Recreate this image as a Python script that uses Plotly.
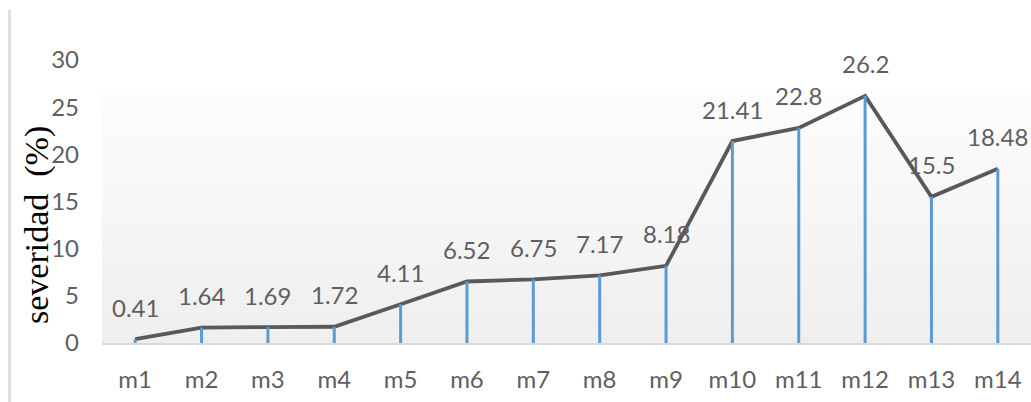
import plotly.graph_objects as go

# Severity per sample
categories = ["m1", "m2", "m3", "m4", "m5", "m6", "m7", "m8", "m9", "m10", "m11", "m12", "m13", "m14"]
severity = [0.41, 1.64, 1.69, 1.72, 4.11, 6.52, 6.75, 7.17, 8.18, 21.41, 22.8, 26.2, 15.5, 18.48]
y_ticks = [0, 5, 10, 15, 20, 25, 30]

W, H = 1031, 402
M_L, M_R, M_T, M_B = 102, 0, 60, 59

TEXT_GRAY = "#5f5f5f"
LINE_GRAY = "#595959"
DROP_BLUE = "#5b9bd5"
LABEL_FONT = dict(family="Lato, 'Open Sans', sans-serif", size=24, color=TEXT_GRAY)

fig = go.Figure()

# Main series line
fig.add_trace(go.Scatter(
    x=categories, y=severity, mode="lines",
    line=dict(color=LINE_GRAY, width=3.8),
    hoverinfo="skip", showlegend=False,
))

# Drop lines from each point down to the category axis
drop_x, drop_y = [], []
for c, v in zip(categories, severity):
    drop_x += [c, c, None]
    drop_y += [0, v, None]
fig.add_trace(go.Scatter(
    x=drop_x, y=drop_y, mode="lines",
    line=dict(color=DROP_BLUE, width=3),
    hoverinfo="skip", showlegend=False,
))

# Value labels above each point
for c, v in zip(categories, severity):
    fig.add_annotation(
        x=c, y=v, text=f"{v:g}", showarrow=False,
        xanchor="center", yanchor="middle", yshift=32,
        font=LABEL_FONT,
    )

# Plot-area background: soft vertical gradient, light gray at the bottom
shapes = []
n_steps = 40
g_top = 0.894
top_rgb = (253, 253, 253)
bot_rgb = (238, 238, 238)
for i in range(n_steps):
    t0 = i / n_steps
    t1 = (i + 1) / n_steps
    f = (i + 0.5) / n_steps
    rgb = tuple(round(b + (t - b) * f) for t, b in zip(top_rgb, bot_rgb))
    shapes.append(dict(
        type="rect", xref="paper", yref="paper",
        x0=0, x1=1, y0=g_top * t0, y1=g_top * t1,
        fillcolor="rgb(%d,%d,%d)" % rgb, line=dict(width=0), layer="below",
    ))

# Chart-area border on the left side
pw = W - M_L - M_R
ph = H - M_T - M_B
shapes.append(dict(
    type="line", xref="paper", yref="paper",
    x0=(9.5 - M_L) / pw, x1=(9.5 - M_L) / pw,
    y0=(H - M_B - 10) / ph, y1=(H - M_B - H) / ph,
    line=dict(color="#d9d9d9", width=2.5),
))

fig.add_annotation(
    xref="paper", yref="paper",
    x=(37 - M_L) / pw, y=(H - M_B - 225) / ph,
    text="severidad\u00a0\u00a0(%)", textangle=-90, showarrow=False,
    xanchor="center", yanchor="middle",
    font=dict(family="'Liberation Serif', 'Times New Roman', serif", size=34, color="#000000"),
)

fig.update_layout(
    width=W, height=H,
    margin=dict(l=M_L, r=M_R, t=M_T, b=M_B, pad=0),
    paper_bgcolor="white", plot_bgcolor="rgba(0,0,0,0)",
    shapes=shapes,
    showlegend=False,
)
fig.update_xaxes(
    type="category", categoryorder="array", categoryarray=categories,
    range=[-0.5, len(categories) - 0.5],
    showgrid=False, zeroline=False,
    showline=True, linecolor="#d9d9d9", linewidth=1.5,
    ticks="", ticklabelstandoff=14,
    tickfont=LABEL_FONT,
)
fig.update_yaxes(
    range=[0, 30], tickvals=y_ticks,
    showgrid=False, zeroline=False, showline=False,
    ticks="", ticklabelstandoff=22,
    tickfont=LABEL_FONT,
)

fig.write_html("out.html")
